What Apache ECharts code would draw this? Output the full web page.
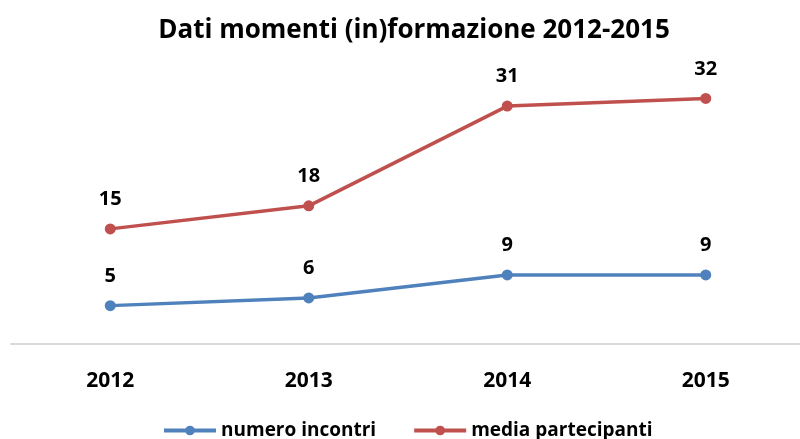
<!DOCTYPE html>
<html>
<head>
<meta charset="utf-8">
<script src="https://cdn.jsdelivr.net/npm/echarts@6/dist/echarts.min.js"></script>
<style>
html, body { margin: 0; padding: 0; background: #fff; overflow: hidden; }
#chart { width: 808px; height: 439px; }
</style>
</head>
<body>
<div id="chart"></div>
<script>
var anni = ['2012', '2013', '2014', '2015'];
var numeroIncontri = [5, 6, 9, 9];
var mediaPartecipanti = [15, 18, 31, 32];

var font = '"Open Sans", sans-serif';

// il contenitore e' un po' piu' largo della finestra: l'asse esce dal bordo destro
var chart = echarts.init(document.getElementById('chart'));
var labelStyle = {
    show: true,
    position: 'top',
    distance: 14,
    fontFamily: font,
    fontWeight: 'bold',
    fontSize: 20,
    color: '#000'
};
option = {
    animation: false,
    title: {
        text: 'Dati momenti (in)formazione 2012-2015',
        left: 409,
        textAlign: 'center',
        top: 13,
        textStyle: { fontFamily: font, fontWeight: 'bold', fontSize: 26, color: '#000' }
    },
    legend: {
        data: ['numero incontri', 'media partecipanti'],
        left: 157,
        bottom: -6,
        itemWidth: 52,
        itemHeight: 12,
        itemGap: 36,
        lineStyle: { width: 4 },
        textStyle: { fontFamily: font, fontWeight: 'bold', fontSize: 19, color: '#000' }
    },
    grid: {
        left: 11,
        right: 3,
        top: 37,
        bottom: 95
    },
    xAxis: {
        type: 'category',
        data: anni,
        axisLine: { lineStyle: { color: '#d9d9d9', width: 2 } },
        axisTick: { show: false },
        axisLabel: { margin: 27, fontFamily: font, fontWeight: 'bold', fontSize: 21, color: '#000' }
    },
    yAxis: {
        type: 'value',
        min: 0,
        max: 40,
        show: false
    },
    series: [{
        name: 'numero incontri',
        type: 'line',
        data: numeroIncontri,
        symbol: 'circle',
        symbolSize: 11,
        lineStyle: { width: 3.5, color: '#4f81bd' },
        itemStyle: { color: '#4f81bd' },
        label: labelStyle
    }, {
        name: 'media partecipanti',
        type: 'line',
        data: mediaPartecipanti,
        symbol: 'circle',
        symbolSize: 11,
        lineStyle: { width: 3.5, color: '#c0504d' },
        itemStyle: { color: '#c0504d' },
        label: labelStyle
    }]
};
chart.setOption(option);
</script>
</body>
</html>
